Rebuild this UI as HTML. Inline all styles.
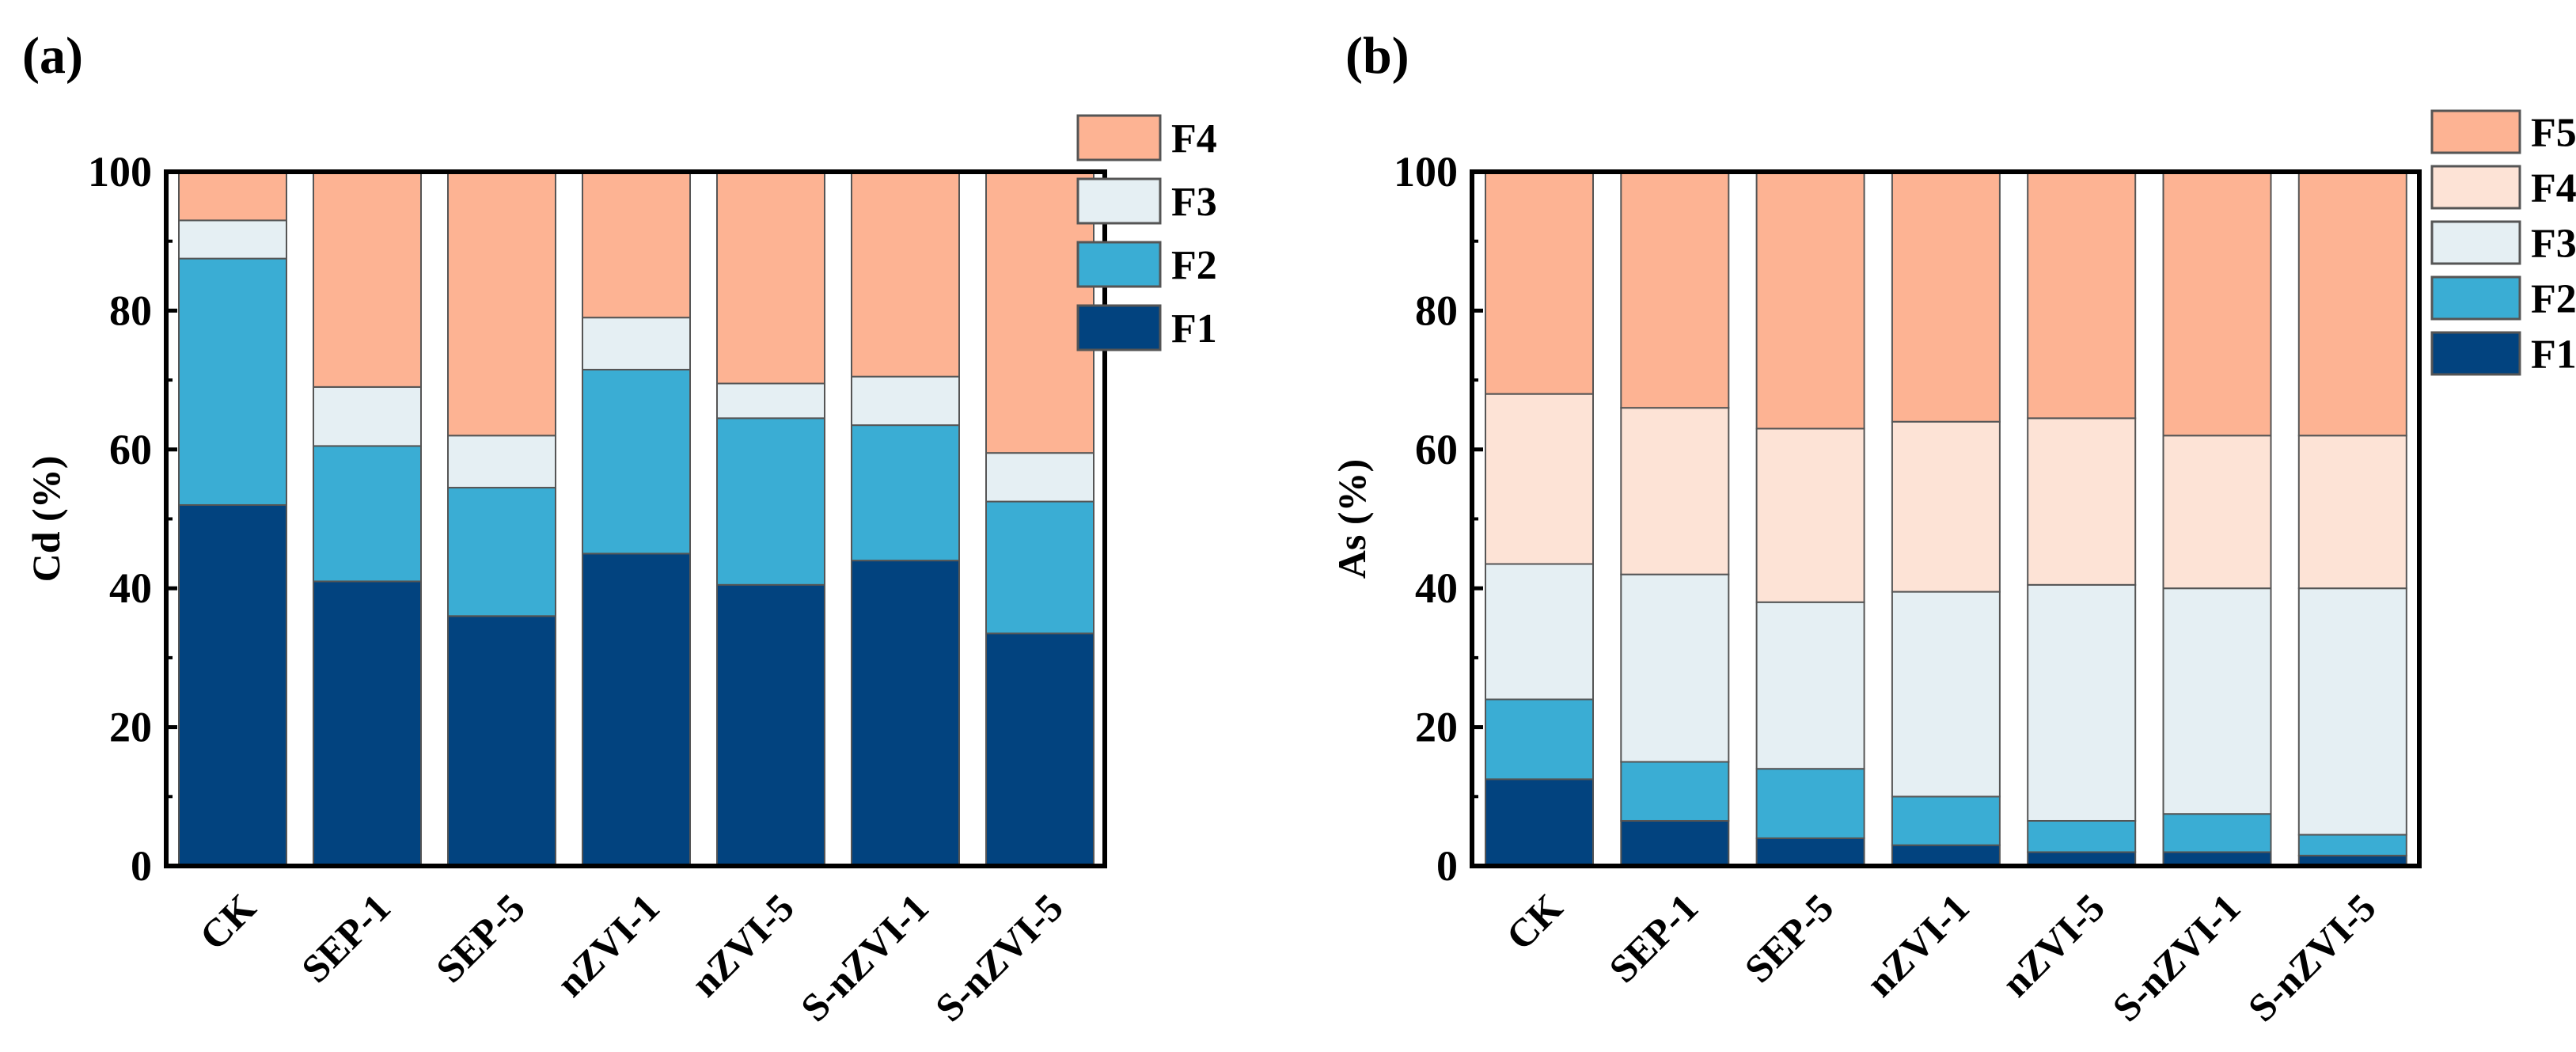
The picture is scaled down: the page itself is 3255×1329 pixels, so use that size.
<!DOCTYPE html>
<html><head><meta charset="utf-8"><style>
body{margin:0;background:#fff}
svg{display:block}
text{font-family:"Liberation Serif",serif;font-weight:bold;fill:#000}
</style></head><body>
<svg id="chart" width="3255" height="1329" viewBox="0 0 3255 1329" xmlns="http://www.w3.org/2000/svg">
<text x="28" y="92" font-size="66">(a)</text>
<text x="1700" y="92" font-size="66">(b)</text>
<g id="pa"></g>
<g id="pb"></g>
</svg>
<script>
const categories = ["CK","SEP-1","SEP-5","nZVI-1","nZVI-5","S-nZVI-1","S-nZVI-5"];
const yTicks = [0,20,40,60,80,100];
// Cd fractions (%)
const cdF1 = [52,41,36,45,40.5,44,33.5];
const cdF2 = [35.5,19.5,18.5,26.5,24,19.5,19];
const cdF3 = [5.5,8.5,7.5,7.5,5,7,7];
const cdF4 = [7,31,38,21,30.5,29.5,40.5];
// As fractions (%)
const asF1 = [12.5,6.5,4,3,2,2,1.5];
const asF2 = [11.5,8.5,10,7,4.5,5.5,3];
const asF3 = [19.5,27,24,29.5,34,32.5,35.5];
const asF4 = [24.5,24,25,24.5,24,22,22];
const asF5 = [32,34,37,36,35.5,38,38];

const NS="http://www.w3.org/2000/svg";
const COL={F1:"#02437f",F2:"#3aadd4",F3:"#e5eff3",F4a:"#fdb393",F4b:"#fde3d6",F5:"#fdb393"};
function mk(tag,attrs,parent){const e=document.createElementNS(NS,tag);for(const k in attrs)e.setAttribute(k,attrs[k]);parent.appendChild(e);return e;}

function drawChart(g,cfg){
  const y0=1094,y100=217;
  const y=v=>y0-(y0-y100)*v/100;
  const x=i=>cfg.firstBar+i*cfg.slot;
  // bars
  for(let i=0;i<categories.length;i++){
    let acc=0;
    cfg.series.forEach(s=>{
      const v=s.vals[i];
      const r=mk("rect",{x:x(i),y:y(acc+v),width:cfg.bw,height:y(acc)-y(acc+v),fill:s.color,stroke:"#555","stroke-width":2},g);
      
      
      acc+=v;
    });
    const t=mk("text",{x:0,y:0,"font-size":50,"text-anchor":"end",transform:`translate(${x(i)+cfg.bw/2+32},${1150}) rotate(-45)`},g);
    t.textContent=categories[i];
    
    
  }
  // frame
  const f=mk("rect",{x:cfg.ax,y:y100,width:cfg.right-cfg.ax,height:y0-y100,fill:"none",stroke:"#000","stroke-width":6},g);
  
  
  yTicks.forEach(v=>{
    const l=mk("line",{x1:cfg.ax,x2:cfg.ax+14,y1:y(v),y2:y(v),stroke:"#000","stroke-width":5},g);
    
    
    if(v<100){const m=mk("line",{x1:cfg.ax,x2:cfg.ax+8,y1:y(v+10),y2:y(v+10),stroke:"#000","stroke-width":4},g);
      
      }
    const t=mk("text",{x:cfg.ax-18,y:y(v)+18,"font-size":54,"text-anchor":"end"},g);
    t.textContent=v;
    
    
  });
  const yt=mk("text",{x:0,y:0,"font-size":50,"text-anchor":"middle",transform:`translate(${cfg.ax-135},${(y0+y100)/2}) rotate(-90)`},g);
  yt.textContent=cfg.ytitle;
  
  
  // legend (top to bottom reversed series)
  const leg=cfg.series.slice().reverse();
  leg.forEach((s,k)=>{
    const ly=cfg.legY+k*cfg.legPitch;
    const r=mk("rect",{x:cfg.legX,y:ly,width:cfg.legW,height:cfg.legH,fill:s.color,stroke:"#555","stroke-width":3},g);
    
    
    const t=mk("text",{x:cfg.legX+cfg.legW+14,y:ly+cfg.legH/2+18,"font-size":52},g);
    t.textContent=s.name;
    
    
  });
}
drawChart(document.getElementById('pa'),{ax:210,right:1396,firstBar:226,slot:170,bw:136,ytitle:"Cd (%)",
  legX:1362,legY:146,legW:104,legH:56,legPitch:80,
  series:[{name:"F1",vals:cdF1,color:COL.F1},{name:"F2",vals:cdF2,color:COL.F2},{name:"F3",vals:cdF3,color:COL.F3},{name:"F4",vals:cdF4,color:COL.F4a}]});
drawChart(document.getElementById('pb'),{ax:1860,right:3057,firstBar:1877,slot:171.3,bw:136,ytitle:"As (%)",
  legX:3073,legY:140,legW:111,legH:53,legPitch:70,
  series:[{name:"F1",vals:asF1,color:COL.F1},{name:"F2",vals:asF2,color:COL.F2},{name:"F3",vals:asF3,color:COL.F3},{name:"F4",vals:asF4,color:COL.F4b},{name:"F5",vals:asF5,color:COL.F5}]});
</script>
</body></html>
